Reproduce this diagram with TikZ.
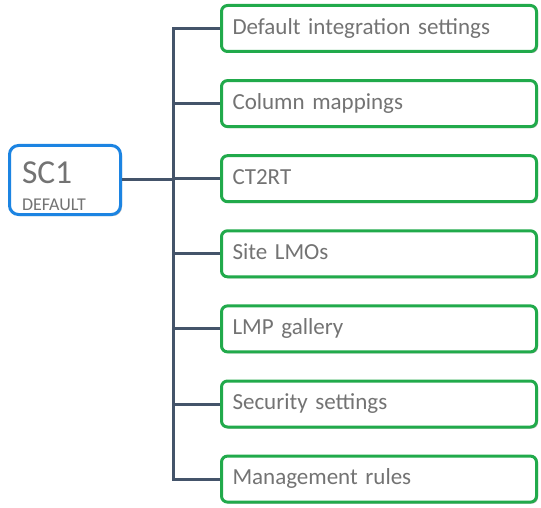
\documentclass[tikz,border=0pt]{standalone}
\usepackage{fontspec}
\setmainfont{Carlito}
\usetikzlibrary{shadows}

\definecolor{azulsc}{RGB}{28,132,226}
\definecolor{verdecaja}{RGB}{33,170,75}
\definecolor{pizarra}{RGB}{68,84,106}
\definecolor{gristexto}{RGB}{115,115,115}

\tikzset{
  sombra/.style={drop shadow={shadow xshift=1.5pt, shadow yshift=-1.5pt, opacity=0.25, fill=black}},
  caja/.style={draw=verdecaja, line width=3pt, rounded corners=6pt, fill=white, sombra,
    minimum width=315pt, minimum height=46pt, text width=293pt, inner xsep=11pt,
    text height=16pt, text depth=4.5pt,
    align=left, text=gristexto, font=\fontsize{23}{26}\selectfont},
  raiz/.style={draw=azulsc, line width=3pt, rounded corners=9pt, fill=white, sombra,
    minimum width=111pt, minimum height=69pt, text width=86pt, inner xsep=12.5pt,
    text height=33pt, text depth=27pt,
    align=left, text=gristexto, font=\fontsize{33.5}{27}\selectfont},
  conector/.style={draw=pizarra, line width=3pt}
}

\begin{document}
\begin{tikzpicture}[x=1pt, y=-1pt]
    \useasboundingbox (0,0) rectangle (541,508);

    % Caja principal
    \node[raiz] (sc) at (65,180) {SC1\\[0pt]{\fontsize{18}{27}\selectfont DEFAULT}};

    % Punto del tronco
    \coordinate (tronco) at (173,180);

    % Cajas de configuracion
    \foreach \i/\texto in {0/Default integration settings, 1/Column mappings, 2/CT2RT,
        3/Site LMOs, 4/LMP gallery, 5/Security settings, 6/Management rules} {
      \node[caja] (caja\i) at (379, 28.5 + 75.1*\i) {\texto};
    }

    % Conectores
    \draw[conector] (sc.east) -- (tronco);
    \foreach \i in {0,...,6} {
      \draw[conector] (caja\i.west) -| (tronco);
    }
  \end{tikzpicture}
\end{document}
